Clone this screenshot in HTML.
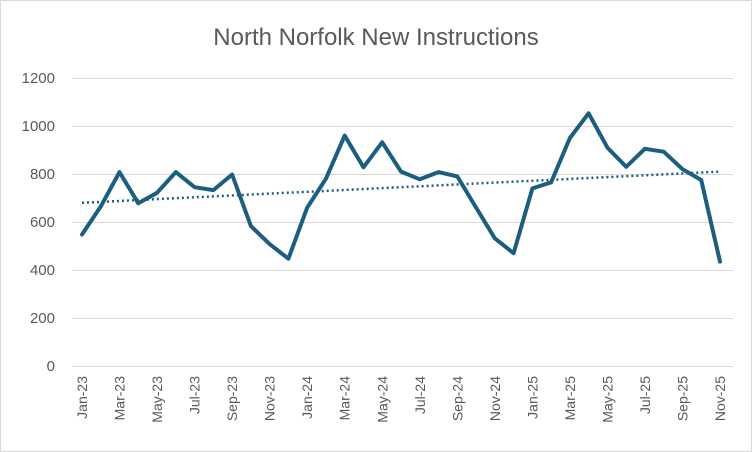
<!DOCTYPE html>
<html><head><meta charset="utf-8"><style>
html,body{margin:0;padding:0;background:#fff;}
svg{display:block;font-family:"Liberation Sans",sans-serif;}
</style></head><body>
<svg width="752" height="452" viewBox="0 0 752 452" xmlns="http://www.w3.org/2000/svg">
<rect x="0.5" y="0.5" width="751" height="451" fill="#fff" stroke="#d9d9d9"/>
<text x="376" y="45" text-anchor="middle" font-size="24" fill="#595959">North Norfolk New Instructions</text>
<g stroke="#d9d9d9" stroke-width="1">
<line x1="72" y1="78.5" x2="733" y2="78.5"/>
<line x1="72" y1="126.5" x2="733" y2="126.5"/>
<line x1="72" y1="174.5" x2="733" y2="174.5"/>
<line x1="72" y1="222.5" x2="733" y2="222.5"/>
<line x1="72" y1="270.5" x2="733" y2="270.5"/>
<line x1="72" y1="318.5" x2="733" y2="318.5"/>
<line x1="72" y1="366.5" x2="733" y2="366.5"/>
</g>
<g font-size="15" fill="#595959" text-anchor="end">
<text x="55" y="83">1200</text>
<text x="55" y="131">1000</text>
<text x="55" y="179">800</text>
<text x="55" y="227">600</text>
<text x="55" y="275">400</text>
<text x="55" y="323">200</text>
<text x="55" y="371">0</text>
</g>
<g font-size="14" fill="#595959" text-anchor="end">
<text transform="translate(87,376) rotate(-90)">Jan-23</text>
<text transform="translate(124.5,376) rotate(-90)">Mar-23</text>
<text transform="translate(162.1,376) rotate(-90)">May-23</text>
<text transform="translate(199.6,376) rotate(-90)">Jul-23</text>
<text transform="translate(237.1,376) rotate(-90)">Sep-23</text>
<text transform="translate(274.7,376) rotate(-90)">Nov-23</text>
<text transform="translate(312.2,376) rotate(-90)">Jan-24</text>
<text transform="translate(349.7,376) rotate(-90)">Mar-24</text>
<text transform="translate(387.3,376) rotate(-90)">May-24</text>
<text transform="translate(424.8,376) rotate(-90)">Jul-24</text>
<text transform="translate(462.3,376) rotate(-90)">Sep-24</text>
<text transform="translate(499.9,376) rotate(-90)">Nov-24</text>
<text transform="translate(537.4,376) rotate(-90)">Jan-25</text>
<text transform="translate(574.9,376) rotate(-90)">Mar-25</text>
<text transform="translate(612.5,376) rotate(-90)">May-25</text>
<text transform="translate(650,376) rotate(-90)">Jul-25</text>
<text transform="translate(687.5,376) rotate(-90)">Sep-25</text>
<text transform="translate(725,376) rotate(-90)">Nov-25</text>
</g>
<line x1="82" y1="202.8" x2="720" y2="171.6" stroke="#1b5e7f" stroke-width="2.5" stroke-dasharray="2,3"/>
<polyline fill="none" stroke="#1b5e7f" stroke-width="4" stroke-linejoin="round" stroke-linecap="round" points="82,234.5 100.8,206.4 119.5,172.1 138.3,203.3 157.1,192.7 175.8,172.1 194.6,187.2 213.4,190.1 232.1,174.5 250.9,226.1 269.6,244.1 288.4,258.7 307.2,207.6 325.9,178.8 344.7,135.6 363.5,167.3 382.2,142.3 401,171.6 419.8,179.3 438.5,172.1 457.3,176.4 476.1,207.6 494.8,238.3 513.6,253.2 532.4,188.4 551.1,182.4 569.9,138 588.6,113.3 607.4,147.6 626.2,166.8 644.9,148.8 663.7,151.7 682.5,169.2 701.2,180 720,261.6"/>
</svg>
</body></html>
